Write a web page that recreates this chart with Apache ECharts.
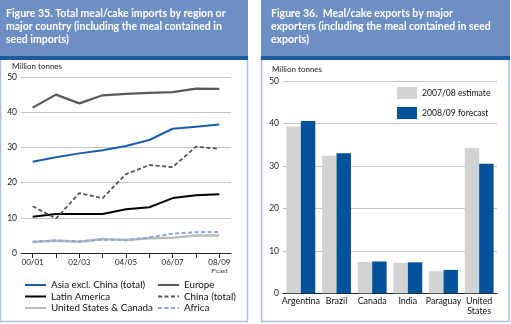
<!DOCTYPE html>
<html><head><meta charset="utf-8">
<script src="https://cdn.jsdelivr.net/npm/echarts@6/dist/echarts.min.js"></script>
<style>html,body{margin:0;padding:0;background:#fff;}#c{width:511px;height:324px;}</style>
</head><body><div id="c"></div>
<script>
// Figure 35 data (million tonnes)
const years = ['00/01','01/02','02/03','03/04','04/05','05/06','06/07','07/08','08/09'];
const asiaExChina = [25.9, 27.2, 28.3, 29.2, 30.4, 32.1, 35.3, 35.9, 36.5];
const europe = [41.3, 45.0, 42.5, 44.8, 45.2, 45.5, 45.7, 46.7, 46.6];
const latinAmerica = [10.3, 11.1, 11.1, 11.1, 12.4, 13.0, 15.6, 16.4, 16.7];
const china = [13.3, 9.8, 17.0, 15.6, 22.4, 25.0, 24.4, 30.2, 29.6];
const usCanada = [3.1, 3.5, 3.2, 4.0, 3.7, 4.2, 4.3, 5.0, 5.0];
const africa = [3.2, 3.6, 3.3, 3.8, 3.7, 4.4, 5.5, 5.9, 6.0];
const leftTicks = [0, 10, 20, 30, 40, 50];

// Figure 36 data (million tonnes)
const exporters = ['Argentina', 'Brazil', 'Canada', 'India', 'Paraguay', 'United\nStates'];
const estimate0708 = [39.3, 32.4, 7.4, 7.2, 5.2, 34.2];
const forecast0809 = [40.6, 33.0, 7.5, 7.3, 5.5, 30.5];
const rightTicks = [0, 10, 20, 30, 40, 50];

const FONT = 'Lato';
const titleBlue = '#6d8fc3', stripBlue = '#1d5aa4', borderBlue = '#a9c1dd';

const chart = echarts.init(document.getElementById('c'), null, {renderer: 'canvas'});

function lineSeries(name, data, color, width, dashed) {
  return {
    type: 'line', name: name, data: data, xAxisIndex: 0, yAxisIndex: 0,
    symbol: 'none', smooth: false, animation: false,
    lineStyle: {color: color, width: width, type: dashed ? [4, 2.5] : 'solid'},
    itemStyle: {color: color}
  };
}

const lineLegendBase = {
  orient: 'vertical', top: 279.5, itemWidth: 21, itemHeight: 8, itemGap: 0.5, padding: 0,
  itemStyle: {opacity: 0},
  textStyle: {fontSize: 9.8, color: '#111', fontFamily: FONT, lineHeight: 11}
};

const option = {
  animation: false,
  textStyle: {fontFamily: FONT},
  graphic: [
    // left panel
    {type: 'rect', shape: {x: 0.5, y: 56, width: 247, height: 265.5}, style: {fill: '#fff', stroke: borderBlue, lineWidth: 1.5}, z: -10},
    {type: 'rect', shape: {x: 0, y: 0, width: 248, height: 56}, style: {fill: titleBlue}, z: -5},
    {type: 'rect', shape: {x: 0, y: 56, width: 248, height: 4}, style: {fill: stripBlue}, z: -5},
    // right panel
    {type: 'rect', shape: {x: 261.5, y: 56, width: 247.5, height: 265.5}, style: {fill: '#fff', stroke: borderBlue, lineWidth: 1.5}, z: -10},
    {type: 'rect', shape: {x: 261, y: 0, width: 249, height: 56}, style: {fill: titleBlue}, z: -5},
    {type: 'rect', shape: {x: 261, y: 56, width: 249, height: 4}, style: {fill: stripBlue}, z: -5}
  ],
  title: [
    {text: 'Figure 35. Total meal/cake imports by region or\nmajor country (including the meal contained in\nseed imports)',
     left: 1, top: 2,
     textStyle: {color: '#fff', fontSize: 10.5, fontWeight: 'bold', fontFamily: FONT, lineHeight: 13}},
    {text: 'Figure 36.  Meal/cake exports by major\nexporters (including the meal contained in seed\nexports)',
     left: 266, top: 2,
     textStyle: {color: '#fff', fontSize: 10.5, fontWeight: 'bold', fontFamily: FONT, lineHeight: 13}}
  ],
  legend: [
    Object.assign({}, lineLegendBase, {left: 24, data: ['Asia excl. China (total)', 'Latin America', 'United States & Canada']}),
    Object.assign({}, lineLegendBase, {left: 157, data: ['Europe', 'China (total)', 'Africa']}),
    {data: ['2007/08 estimate', '2008/09 forecast'],
     orient: 'vertical', left: 397, top: 87, itemWidth: 20, itemHeight: 12, itemGap: 8, padding: 0,
     icon: 'rect',
     textStyle: {fontSize: 8.6, color: '#111', fontFamily: FONT}}
  ],
  grid: [
    {left: 21, right: 280, top: 77, bottom: 71, containLabel: false},
    {left: 283, right: 14, top: 81, bottom: 30.7, containLabel: false}
  ],
  xAxis: [
    {type: 'category', gridIndex: 0, data: years, boundaryGap: true,
     axisLine: {lineStyle: {color: '#222', width: 1}},
     axisTick: {show: true, alignWithLabel: true, interval: 0, length: 5, lineStyle: {color: '#222'}},
     axisLabel: {interval: 1, fontSize: 8, color: '#222', margin: 5, fontFamily: FONT,
       formatter: function (v) { return v === '08/09' ? v + "\n{f|F'cast}" : v; },
       rich: {f: {fontSize: 6.5, color: '#333', fontFamily: FONT, lineHeight: 9}}}},
    {type: 'category', gridIndex: 1, data: exporters,
     axisLine: {lineStyle: {color: '#222', width: 1}},
     axisTick: {show: false},
     axisLabel: {interval: 0, fontSize: 8.9, color: '#111', margin: 3, lineHeight: 10, fontFamily: FONT}}
  ],
  yAxis: [
    {type: 'value', gridIndex: 0, min: leftTicks[0], max: leftTicks[leftTicks.length - 1], interval: 10,
     name: 'Million tonnes', nameLocation: 'end', nameGap: 7,
     nameTextStyle: {align: 'left', fontSize: 8, color: '#222', padding: [0, 0, 0, -9], fontFamily: FONT},
     axisLine: {show: false}, axisTick: {show: false},
     axisLabel: {fontSize: 8.5, color: '#222', margin: 4, fontFamily: FONT},
     splitLine: {lineStyle: {color: '#c4c4c4', width: 1}}},
    {type: 'value', gridIndex: 1, min: rightTicks[0], max: rightTicks[rightTicks.length - 1], interval: 10,
     name: 'Million tonnes', nameLocation: 'end', nameGap: 8,
     nameTextStyle: {align: 'left', fontSize: 8, color: '#222', padding: [0, 0, 0, -11], fontFamily: FONT},
     axisLine: {show: false}, axisTick: {show: false},
     axisLabel: {fontSize: 8.5, color: '#222', margin: 4, fontFamily: FONT},
     splitLine: {lineStyle: {color: '#c4c4c4', width: 1}}}
  ],
  series: [
    lineSeries('United States & Canada', usCanada, '#bdbdbd', 2.5, false),
    lineSeries('Africa', africa, '#8ca6d6', 2, true),
    lineSeries('Latin America', latinAmerica, '#000000', 2, false),
    lineSeries('China (total)', china, '#555555', 1.8, true),
    lineSeries('Asia excl. China (total)', asiaExChina, '#1a5ea8', 2, false),
    lineSeries('Europe', europe, '#595959', 2.2, false),
    {type: 'bar', name: '2007/08 estimate', data: estimate0708, xAxisIndex: 1, yAxisIndex: 1,
     barGap: '0%', barCategoryGap: '19%', itemStyle: {color: '#d1d3d5'}},
    {type: 'bar', name: '2008/09 forecast', data: forecast0809, xAxisIndex: 1, yAxisIndex: 1,
     barGap: '0%', barCategoryGap: '19%', itemStyle: {color: '#02529a'}}
  ]
};
chart.setOption(option);
</script>
</body></html>
